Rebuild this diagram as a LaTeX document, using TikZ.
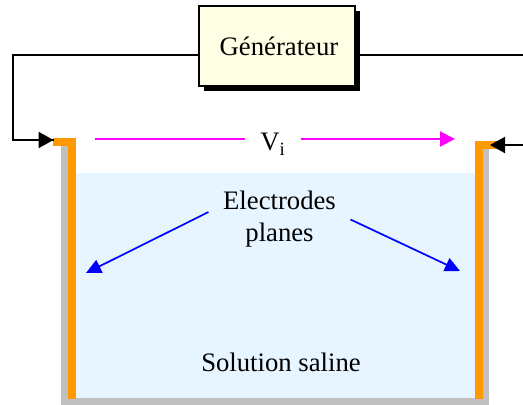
\documentclass[tikz,border=0pt]{standalone}
\usepackage{fontspec}
\setmainfont{Liberation Serif}
\usepackage{xcolor}
\usetikzlibrary{arrows.meta, positioning, shadows}
\definecolor{boxyellow}{HTML}{FFFFE5}
\definecolor{salineblue}{HTML}{E6F5FF}
\definecolor{plateorange}{HTML}{FF9900}
\definecolor{tankgray}{HTML}{C0C0C0}
\definecolor{voltpink}{HTML}{FF00FF}

\begin{document}
\begin{tikzpicture}[x=0.5pt, y=-0.5pt, on grid, font=\fontsize{13.35}{16}\selectfont,
        wire/.style={draw=black, line width=1pt, -{Triangle[length=7.5pt, width=8pt]}},
        lead/.style={draw=black, line width=1pt},
        volt/.style={draw=voltpink, line width=1pt, -{Triangle[length=7.5pt, width=7.5pt]}},
        pointer/.style={draw=blue, line width=0.85pt, -{Triangle[length=7.5pt, width=7pt]}},
        plate/.style={draw=plateorange, line width=4pt, miter limit=10}]
        \useasboundingbox (0,0) rectangle (523,405);

        % tank
        \fill[salineblue] (75,173) rectangle (476,398);
        \fill[tankgray] (61,146) rectangle (68,405);
        \fill[tankgray] (482,149) rectangle (489,405);
        \fill[tankgray] (61,398) rectangle (489,405);
        \draw[plate] (53,142) -- (72,142) -- (72,399);
        \draw[plate] (497,145) -- (479,145) -- (479,399);

        \node[draw=black, fill=boxyellow, line width=1pt, minimum width=78pt, minimum height=40pt,
              drop shadow={shadow xshift=2.5pt, shadow yshift=-2.5pt, fill=black, opacity=1}]
              (gen) at (276.5,46.5) {\hspace*{2.5pt}Générateur};
        \node[inner sep=0pt, outer sep=0pt, minimum width=28pt, text height=12pt, text depth=0pt]
              (vi) [below=46.25pt of gen, xshift=-1.75pt] {V\textsubscript{i}};
        \node[align=center, inner sep=0pt, outer sep=0pt, minimum width=71pt, minimum height=20pt]
              (elec) [below=86.5pt of gen, xshift=1.5pt] {Electrodes\\planes};
        \node (saline) [below=71.25pt of elec, xshift=0.75pt] {Solution saline};

        \coordinate (leftin) at (53.5,140);
        \coordinate (leftcorner) at (13,55);
        \coordinate (rightout) at (523,55);
        \coordinate (rightin) at (490,145);
        \coordinate (rightend) at (523,145);
        \coordinate (viL) at (95,139);
        \coordinate (viEnd) at (455,139);
        \coordinate (elecL) at (86,273);
        \coordinate (elecR) at (460,271);

        \path[lead] (gen.west |- leftcorner) -- (leftcorner) -- (13,140) -- (leftin);
        \path[wire] (13,140) -- (leftin);
        \path[lead] (gen.east |- rightout) -- (rightout);
        \path[wire] (rightend) -- (rightin);

        \path[volt] (vi.east) -- (viEnd);
        \path[lead, draw=voltpink] (vi.west) -- (viL);

        \path[pointer] (elec.174) -- (elecL);
        \path[pointer] (elec.east) -- (elecR);
\end{tikzpicture}
\end{document}
